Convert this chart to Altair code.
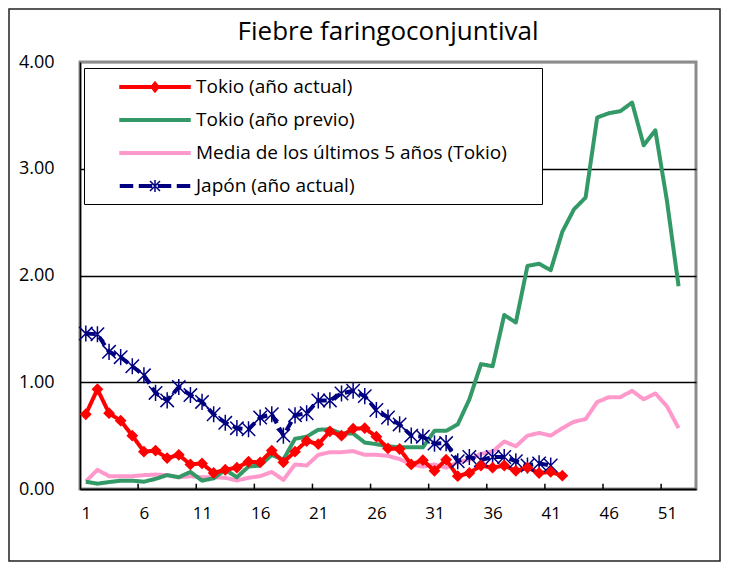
import altair as alt
import pandas as pd

# ---------------- data ----------------
weeks = list(range(1, 53))

tokyo_actual = [0.70, 0.935, 0.71, 0.64, 0.50, 0.35, 0.36, 0.29, 0.32, 0.23,
                0.24, 0.15, 0.18, 0.20, 0.255, 0.25, 0.36, 0.25, 0.35, 0.45,
                0.42, 0.54, 0.50, 0.565, 0.57, 0.49, 0.38, 0.375, 0.23, 0.27,
                0.17, 0.275, 0.12, 0.15, 0.22, 0.20, 0.22, 0.17, 0.20, 0.15,
                0.16, 0.125]

tokyo_previo = [0.068, 0.05, 0.065, 0.078, 0.078, 0.068, 0.095, 0.13, 0.11, 0.16,
                0.078, 0.10, 0.18, 0.11, 0.21, 0.22, 0.32, 0.275, 0.47, 0.49,
                0.555, 0.56, 0.52, 0.52, 0.435, 0.42, 0.40, 0.39, 0.39, 0.39,
                0.545, 0.545, 0.605, 0.84, 1.17, 1.15, 1.63, 1.56, 2.09, 2.11,
                2.05, 2.41, 2.62, 2.73, 3.48, 3.52, 3.54, 3.62, 3.22, 3.36,
                2.70, 1.90]

media_5 = [0.07, 0.18, 0.12, 0.12, 0.12, 0.13, 0.135, 0.13, 0.11, 0.12,
           0.11, 0.11, 0.105, 0.08, 0.105, 0.12, 0.16, 0.085, 0.23, 0.22,
           0.32, 0.345, 0.345, 0.355, 0.32, 0.32, 0.31, 0.28, 0.23, 0.21,
           0.23, 0.20, 0.25, 0.275, 0.33, 0.35, 0.445, 0.40, 0.50, 0.525,
           0.50, 0.57, 0.63, 0.655, 0.815, 0.86, 0.86, 0.92, 0.84, 0.895,
           0.775, 0.57]

japon_actual = [1.456, 1.45, 1.285, 1.235, 1.15, 1.065, 0.90, 0.83, 0.955, 0.88,
                0.816, 0.70, 0.62, 0.57, 0.56, 0.67, 0.70, 0.50, 0.69, 0.71,
                0.83, 0.83, 0.895, 0.92, 0.87, 0.74, 0.67, 0.605, 0.50, 0.49,
                0.425, 0.43, 0.26, 0.30, 0.27, 0.30, 0.30, 0.26, 0.22, 0.24,
                0.22]

series_names = ["Tokio (año actual)", "Tokio (año previo)",
                "Media de los últimos 5 años (Tokio)", "Japón (año actual)"]
series_colors = ["#FF0000", "#339966", "#FF99CC", "#000080"]

x_labels = [1, 6, 11, 16, 21, 26, 31, 36, 41, 46, 51]
tick_bounds = [5.5, 10.5, 15.5, 20.5, 25.5, 30.5, 35.5, 40.5, 45.5, 50.5]
y_ticks = [0, 1, 2, 3, 4]

title_text = "Fiebre faringoconjuntival"

# ---------------- tables ----------------
draw_order = [(series_names[2], media_5), (series_names[1], tokyo_previo),
              (series_names[3], japon_actual), (series_names[0], tokyo_actual)]
rows = []
for name, vals in draw_order:
    for w, v in zip(weeks, vals):
        rows.append({"week": w, "value": v, "series": name})
df = pd.DataFrame(rows)
df_red = df[df.series == series_names[0]]
df_jp = df[df.series == series_names[3]]
df_ticks = pd.DataFrame({"week": tick_bounds})
df_one = pd.DataFrame({"a": [0]})

FONT = "Open Sans"
W, H = 616, 427

xscale = alt.Scale(domain=[0.5, 53.5], nice=False, zero=False)
yscale = alt.Scale(domain=[0, 4], nice=False)
xaxis = alt.Axis(values=x_labels, title=None, ticks=False, grid=False,
                 labelFont=FONT, labelFontSize=17, labelColor="black",
                 labelPadding=16, labelFlush=False, labelOverlap=False,
                 labelAngle=0, domainColor="black", domainWidth=1.5)
yaxis = alt.Axis(values=y_ticks, title=None, ticks=False, format=".2f",
                 labelFont=FONT, labelFontSize=18, labelColor="black",
                 labelPadding=26, domainColor="black", domainWidth=1.5,
                 grid=True, gridWidth=1.5,
                 gridColor={"condition": {"test": "datum.value >= 4", "value": "#8c8c8c"},
                            "value": "black"})

X = alt.X("week:Q", scale=xscale, axis=xaxis)
Y = alt.Y("value:Q", scale=yscale, axis=yaxis)

# legend symbol paths (unit = 10 px at size 400)
P_LINE = "M-3.5,-0.125H3.5V0.125H-3.5Z"
P_RED = P_LINE + "M0,-0.5L0.4,0L0,0.5L-0.4,0Z"
P_JP = ("M-3.45,-0.125H-2.25V0.125H-3.45Z"
        "M-1.55,-0.125H-0.35V0.125H-1.55Z"
        "M0.35,-0.125H1.55V0.125H0.35Z"
        "M2.25,-0.125H3.45V0.125H2.25Z"
        "M-0.5,-0.5L0.5,0.5M-0.5,0.5L0.5,-0.5M0,-0.6L0,0.6")
legend_shapes = [P_RED, P_LINE, P_LINE, P_JP]

legend = alt.Legend(
    title="\u00a0", titleOrient="right", titlePadding=27, titleFontSize=1,
    orient="none", legendX=4, legendY=6,
    fillColor="white", strokeColor="black", padding=8,
    symbolSize=400, symbolOffset=52, labelOffset=30,
    symbolStrokeWidth=1.5, symbolOpacity=1,
    rowPadding=12, labelFont=FONT, labelFontSize=19, labelColor="black",
    labelLimit=600,
)

cscale = alt.Scale(domain=series_names, range=series_colors)
color = alt.Color("series:N", scale=cscale, legend=legend)
stroke = alt.Stroke("series:N", scale=cscale, legend=legend)
shape = alt.Shape("series:N", scale=alt.Scale(domain=series_names, range=legend_shapes),
                  legend=legend)

frame = alt.Chart(df_one).mark_rect(fill="transparent", stroke="#222222", strokeWidth=1.5).encode(
    x=alt.value(-71), x2=alt.value(640), y=alt.value(-53), y2=alt.value(499))

ticks = alt.Chart(df_ticks).mark_rule(color="black", strokeWidth=1.5).encode(
    x=X, y=alt.datum(0), y2=alt.datum(0.05))

lines = alt.Chart(df).mark_line(strokeWidth=4, strokeJoin="round").encode(
    x=X, y=Y, color=color,
    strokeDash=alt.condition(alt.datum.series == series_names[3],
                             alt.value([10, 5]), alt.value([1, 0])),
    order="week:Q")

# legend carrier (no rows drawn; legend entries come from the explicit domain)
carrier = alt.Chart(df).transform_filter("false").mark_point(
    filled=True, opacity=1, strokeWidth=1.5, size=400).encode(
    x=X, y=Y, color=color, stroke=stroke, shape=shape)

red_pts = alt.Chart(df_red).mark_point(shape="diamond", filled=True, size=140,
                                       color="#FF0000", opacity=1).encode(x=X, y=Y)

AST = "M-1,-1L1,1M-1,1L1,-1M0,-1.2L0,1.2"
jp_pts = alt.Chart(df_jp).mark_point(shape=AST, filled=False, size=180, color="#000080",
                                     strokeWidth=1.5, opacity=1).encode(x=X, y=Y)

chart = alt.layer(frame, ticks, lines, carrier, jp_pts, red_pts).properties(
    width=W, height=H,
    autosize="none",
    padding={"left": 72, "top": 54, "right": 25, "bottom": 74},
    title=alt.Title(title_text, font=FONT, fontSize=26, fontWeight="normal",
                    color="black", anchor="middle", offset=0, dy=58,
                    baseline="alphabetic", frame="group"),
    background="white",
).configure_view(stroke="#8c8c8c", strokeWidth=3)

chart.save("out.html", embed_options={"renderer": "svg", "actions": False})
